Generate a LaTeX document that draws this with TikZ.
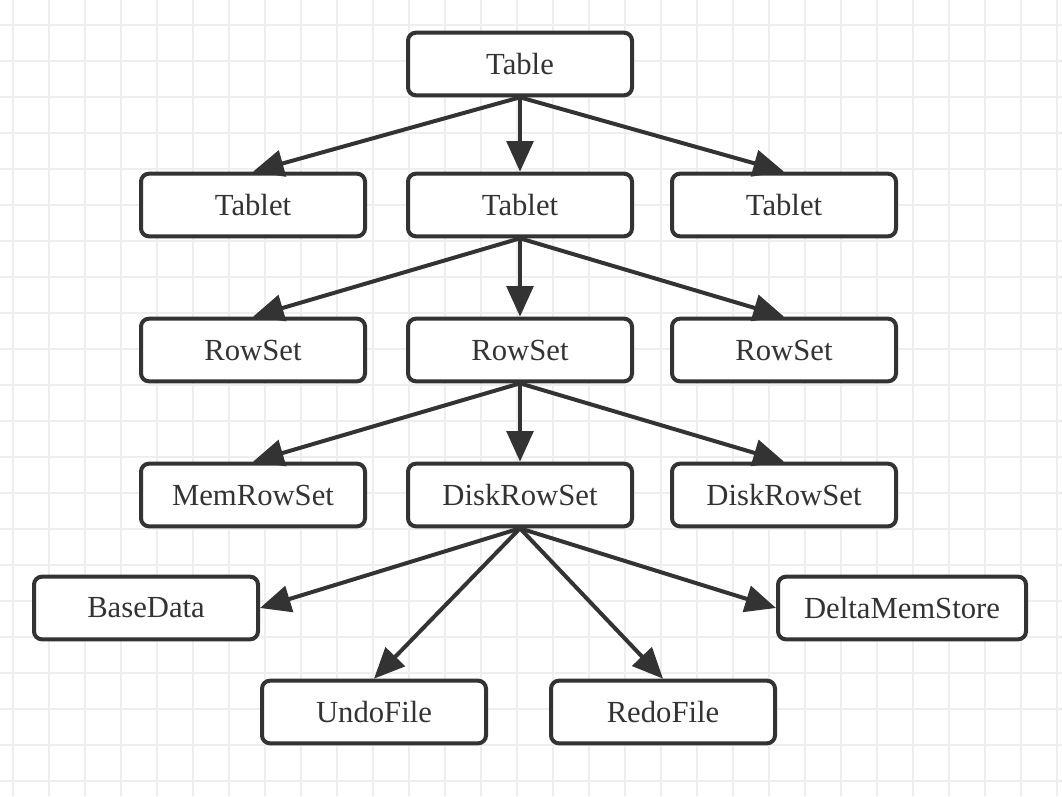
\documentclass[tikz,border=0pt]{standalone}
\usepackage{fontspec}
\setmainfont{Liberation Serif}
\usetikzlibrary{arrows.meta}
\definecolor{inkgray}{HTML}{333333}
\definecolor{gridgray}{HTML}{EEEEEE}
\tikzset{
    box/.style={draw=inkgray, fill=white, text=inkgray, line width=3pt, rounded corners=6pt,
        minimum width=168pt, minimum height=47pt, font=\fontsize{23}{28}\selectfont},
    link/.style={draw=inkgray, line width=3pt, -{Triangle[length=23pt, width=20pt]}},
    gridline/.style={gridgray, line width=1pt}
}
\begin{document}
\begin{tikzpicture}[x=0.75pt, y=-0.75pt]
        \useasboundingbox (0,0) rectangle (1062,796);
    % Below is the background grid.
        \foreach \x in {13,49,...,1062} \draw[gridline] (\x,0) -- (\x,796);
        \foreach \y in {25,61,...,796} \draw[gridline] (0,\y) -- (1062,\y);
    % Below nodes are the boxes.
        \node[box] (table) at (520,64) {Table};
        \node[box] (tabletA) at (253,205) {Tablet};
        \node[box] (tabletB) at (520,205) {Tablet};
        \node[box] (tabletC) at (784,205) {Tablet};
        \node[box] (rowsetA) at (253,350) {RowSet};
        \node[box] (rowsetB) at (520,350) {RowSet};
        \node[box] (rowsetC) at (784,350) {RowSet};
        \node[box] (memrowset) at (253,495) {MemRowSet};
        \node[box] (diskA) at (520,495) {DiskRowSet};
        \node[box] (diskB) at (784,495) {DiskRowSet};
        \node[box] (basedata) at (146,608) {BaseData};
        \node[box, minimum width=186pt] (deltamem) at (902,608) {DeltaMemStore};
        \node[box] (undofile) at (374,712) {UndoFile};
        \node[box] (redofile) at (663,712) {RedoFile};
    % This draws the arrows.
        \draw[link] (table.south) -- (tabletA.north);
        \draw[link] (table.south) -- (tabletB.north);
        \draw[link] (table.south) -- (tabletC.north);
        \draw[link] (tabletB.south) -- (rowsetA.north);
        \draw[link] (tabletB.south) -- (rowsetB.north);
        \draw[link] (tabletB.south) -- (rowsetC.north);
        \draw[link] (rowsetB.south) -- (memrowset.north);
        \draw[link] (rowsetB.south) -- (diskA.north);
        \draw[link] (rowsetB.south) -- (diskB.north);
        \draw[link] (diskA.south) -- (basedata.east);
        \draw[link] (diskA.south) -- (undofile.north);
        \draw[link] (diskA.south) -- (redofile.north);
        \draw[link] (diskA.south) -- (deltamem.west);
    \end{tikzpicture}
\end{document}
